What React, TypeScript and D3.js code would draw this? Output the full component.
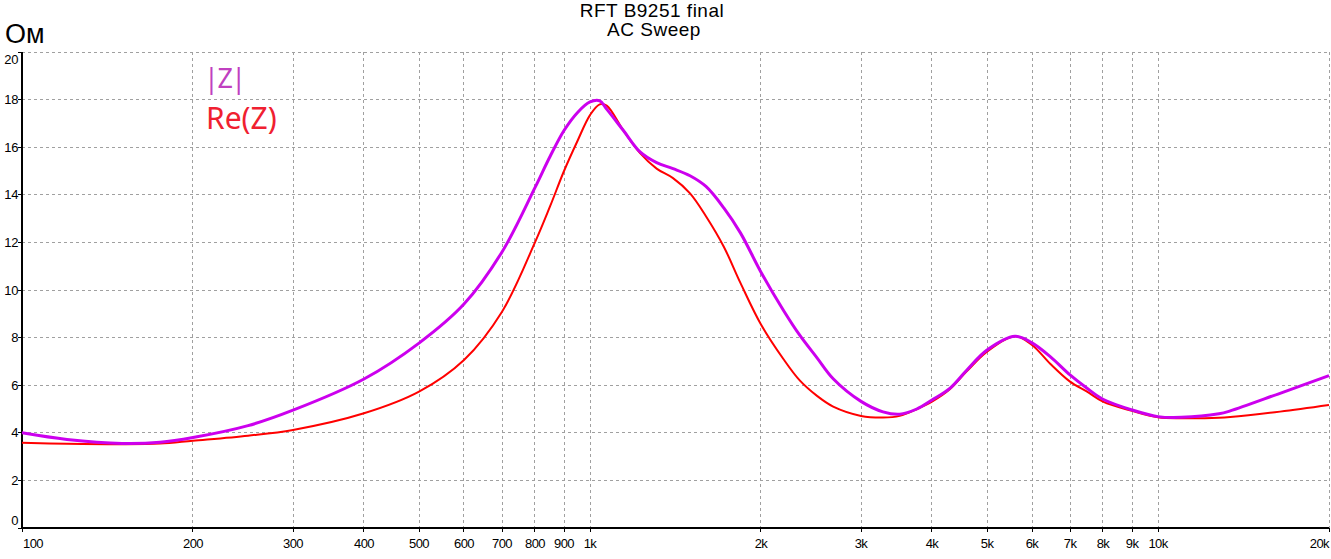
import React from "react";
import * as d3 from "d3";

const freqs = [100, 120, 150, 175, 200, 250, 300, 400, 500, 600, 700, 800, 850, 900, 950, 1000, 1040, 1070, 1145, 1225, 1310, 1400, 1500, 1600, 1720, 1840, 2000, 2190, 2340, 2510, 2680, 3000, 3280, 3510, 3760, 4000, 4300, 4600, 5000, 5600, 6000, 6460, 7000, 7500, 8000, 9000, 10000, 11000, 12800, 13400, 16400, 20000];

const absZ = [4.0, 3.72, 3.55, 3.6, 3.8, 4.3, 4.95, 6.26, 7.77, 9.41, 11.6, 14.3, 15.6, 16.7, 17.45, 17.9, 17.95, 17.6, 16.7, 15.8, 15.35, 15.1, 14.8, 14.35, 13.45, 12.4, 10.75, 9.15, 8.1, 7.15, 6.27, 5.32, 4.88, 4.78, 5.0, 5.38, 5.87, 6.62, 7.48, 8.06, 7.78, 7.2, 6.43, 5.87, 5.41, 4.96, 4.68, 4.65, 4.8, 4.92, 5.66, 6.4];

const reZ = [3.58, 3.54, 3.52, 3.55, 3.67, 3.88, 4.12, 4.82, 5.73, 7.06, 9.09, 12.0, 13.5, 15.0, 16.25, 17.35, 17.8, 17.75, 16.7, 15.75, 15.1, 14.7, 14.06, 13.1, 11.82, 10.3, 8.55, 7.1, 6.2, 5.55, 5.1, 4.71, 4.64, 4.71, 4.99, 5.31, 5.83, 6.57, 7.41, 8.06, 7.69, 6.9, 6.15, 5.73, 5.31, 4.92, 4.65, 4.61, 4.63, 4.66, 4.89, 5.17];

const xTicks = [100, 200, 300, 400, 500, 600, 700, 800, 900, 1000, 2000, 3000, 4000, 5000, 6000, 7000, 8000, 9000, 10000, 20000];
const xTickLabels = ["100", "200", "300", "400", "500", "600", "700", "800", "900", "1k", "2k", "3k", "4k", "5k", "6k", "7k", "8k", "9k", "10k", "20k"];
const yTicks = [0, 2, 4, 6, 8, 10, 12, 14, 16, 18, 20];

const title = "RFT B9251 final";
const subtitle = "AC Sweep";
const yUnit = "Ом";
const seriesNames = ["|Z|", "Re(Z)"];

export default function App() {
  const W = 1331, H = 559;
  const x = d3.scaleLog().domain([100, 20000]).range([22, 1329]);
  const y = d3.scaleLinear().domain([0, 20]).range([528, 52]);
  const line = (vals: number[]) =>
    d3.line<number>()
      .x((_, i) => x(freqs[i]))
      .y((v) => y(v))
      .curve(d3.curveCatmullRom.alpha(0.5))(vals) || "";
  const grid = "#a0a0a0";
  const axisFont = "Liberation Sans, Arial, sans-serif";
  const legendFont = "Noto Sans, Open Sans, sans-serif";
  return (
    <svg width={W} height={H} style={{ position: "absolute", left: 0, top: 0, background: "#fff" }}>
      <rect x={0} y={0} width={W} height={H} fill="#fff" />
      {/* grid */}
      {yTicks.filter((t) => t > 0).map((t) => (
        <line key={"gy" + t} x1={x(100)} x2={x(20000)} y1={y(t)} y2={y(t)} stroke={grid} strokeDasharray="3,3" strokeWidth={1} shapeRendering="crispEdges" />
      ))}
      {xTicks.filter((t) => t > 100).map((t) => (
        <line key={"gx" + t} x1={x(t)} x2={x(t)} y1={y(20)} y2={y(0)} stroke={grid} strokeDasharray="3,3" strokeWidth={1} shapeRendering="crispEdges" />
      ))}
      {/* axes */}
      <line x1={x(100)} x2={x(100)} y1={y(20)} y2={y(0)} stroke="#000" strokeWidth={1.5} shapeRendering="crispEdges" />
      <line x1={x(100)} x2={x(20000)} y1={y(0)} y2={y(0)} stroke="#000" strokeWidth={1.5} shapeRendering="crispEdges" />
      {yTicks.map((t) => (
        <g key={"yt" + t}>
          <line x1={x(100) - 4} x2={x(100)} y1={y(t)} y2={y(t)} stroke="#000" strokeWidth={1} shapeRendering="crispEdges" />
          <text x={18} y={Math.min(Math.max(y(t), 59), 520)} textAnchor="end" dominantBaseline="central" fontFamily={axisFont} fontSize={13} letterSpacing={-0.4} fill="#000">{t}</text>
        </g>
      ))}
      {xTicks.map((t, i) => {
        const px = x(t);
        const anchor = i === 0 ? "start" : i === xTicks.length - 1 ? "end" : "middle";
        return (
          <g key={"xt" + t}>
            <line x1={px} x2={px} y1={y(0)} y2={y(0) + 4} stroke="#000" strokeWidth={1} shapeRendering="crispEdges" />
            <text x={i === 0 ? px + 1 : px} y={548} textAnchor={anchor} fontFamily={axisFont} fontSize={13} letterSpacing={-0.6} fill="#000">{xTickLabels[i]}</text>
          </g>
        );
      })}
      {/* curves */}
      <path d={line(reZ)} fill="none" stroke="#ff0000" strokeWidth={2} />
      <path d={line(absZ)} fill="none" stroke="#cc00ee" strokeWidth={3} />
      {/* titles */}
      <text x={652} y={17} textAnchor="middle" fontFamily={axisFont} fontSize={19} letterSpacing={0.5} fill="#000">{title}</text>
      <text x={654} y={36} textAnchor="middle" fontFamily={axisFont} fontSize={19} letterSpacing={0.5} fill="#000">{subtitle}</text>
      <text x={5} y={43} fontFamily={axisFont} fontSize={27} fill="#000">{yUnit}</text>
      {/* legend */}
      <text x={204} y={88} fontFamily={legendFont} fontSize={27} letterSpacing={-1.5} fill="#c040c0">{seriesNames[0]}</text>
      <text x={206} y={129} fontFamily={legendFont} fontSize={30} fill="#f02030">{seriesNames[1]}</text>
    </svg>
  );
}
